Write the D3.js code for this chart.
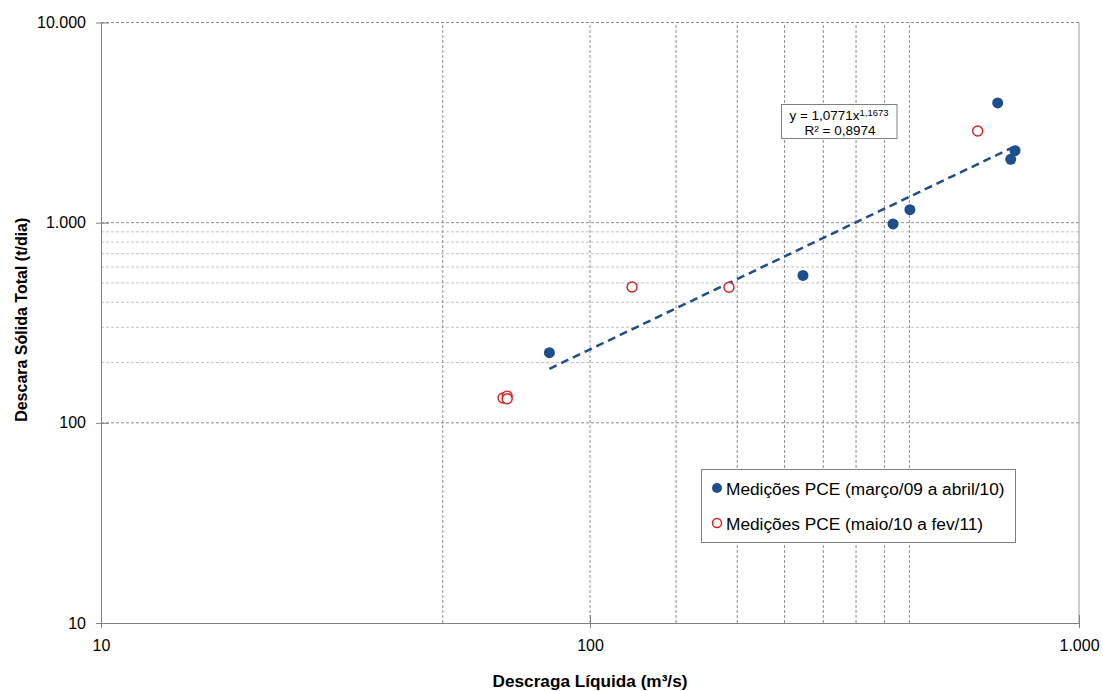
<!DOCTYPE html>
<html>
<head>
<meta charset="utf-8">
<script src="https://cdn.jsdelivr.net/npm/d3@7"></script>
<style>
  body { margin: 0; background: #fff; }
  svg { font-family: "Liberation Sans", Arial, sans-serif; }
</style>
</head>
<body>
<div id="chart"></div>
<script>
// Medições PCE (março/09 a abril/10) - [Q m3/s, Qs t/dia]
const serieA = [
  [82.6, 224], [272.6, 545], [416.6, 985], [451, 1161],
  [681.9, 3962], [725, 2073], [740, 2289]
];
// Medições PCE (maio/10 a fev/11)
const serieB = [
  [66.4, 133], [67.7, 136], [67.7, 132], [121.9, 477],
  [192.4, 476], [620.6, 2871]
];
const trendA = 1.0771, trendB = 1.1673;
const xTicks = [10, 100, 1000];
const yTicks = [10, 100, 1000, 10000];
const xMinor = [50, 150, 200, 250, 300, 350, 400, 450];
const yMinor = [200, 300, 400, 500, 600, 700, 800, 900];
const legendLabels = ["Medições PCE (março/09 a abril/10)", "Medições PCE (maio/10 a fev/11)"];

const width = 1103, height = 691;
const margin = { top: 22.5, right: 24, bottom: 68, left: 101 };
const fmt = d => d3.format(",")(d).replace(/,/g, ".");

const svg = d3.select("#chart").append("svg")
  .attr("width", width).attr("height", height);

const x = d3.scaleLog().domain([10, 1000]).range([margin.left, width - margin.right]);
const y = d3.scaleLog().domain([10, 10000]).range([height - margin.bottom, margin.top]);

const grid = svg.append("g").attr("fill", "none");
// minor y grid (lighter)
grid.selectAll("line.ymin").data(yMinor).enter().append("line")
  .attr("x1", x(10)).attr("x2", x(1000))
  .attr("y1", d => y(d)).attr("y2", d => y(d))
  .attr("stroke", "#c4c4c4").attr("stroke-dasharray", "3,2");
// major y grid
grid.selectAll("line.ymaj").data([100, 1000, 10000]).enter().append("line")
  .attr("x1", x(10)).attr("x2", x(1000))
  .attr("y1", d => y(d)).attr("y2", d => y(d))
  .attr("stroke", "#8c8c8c").attr("stroke-dasharray", "3,2");
// x grid
grid.selectAll("line.x").data(xMinor.concat([100])).enter().append("line")
  .attr("y1", y(10)).attr("y2", y(10000))
  .attr("x1", d => x(d)).attr("x2", d => x(d))
  .attr("stroke", "#8c8c8c").attr("stroke-dasharray", "3,2");
// right border
svg.append("line")
  .attr("x1", x(1000)).attr("x2", x(1000)).attr("y1", y(10)).attr("y2", y(10000))
  .attr("stroke", "#9a9a9a");

// axes
const xAxis = svg.append("g")
  .attr("transform", `translate(0,${y(10)})`)
  .call(d3.axisBottom(x).tickValues(xTicks).tickFormat(fmt).tickSizeInner(5).tickSizeOuter(0).tickPadding(12));
const yAxis = svg.append("g")
  .attr("transform", `translate(${x(10)},0)`)
  .call(d3.axisLeft(y).tickValues(yTicks).tickFormat(fmt).tickSizeInner(5).tickSizeOuter(0).tickPadding(10));
[xAxis, yAxis].forEach(a => {
  a.select(".domain").attr("stroke", "#808080");
  a.selectAll(".tick line").attr("stroke", "#808080");
  a.selectAll(".tick text").attr("font-size", 16).attr("fill", "#000")
    .attr("font-family", "Liberation Sans, Arial, sans-serif");
});
// ticks crossing into plot
xAxis.selectAll(".tick").append("line").attr("y2", -8).attr("stroke", "#808080");
yAxis.selectAll(".tick").append("line").attr("x2", 8).attr("stroke", "#808080");

// axis titles
svg.append("text")
  .attr("x", x(100)).attr("y", 687)
  .attr("text-anchor", "middle").attr("font-size", 17.2).attr("font-weight", "bold")
  .text("Descraga Líquida (m³/s)");
svg.append("text")
  .attr("transform", `translate(27,${(y(10) + y(10000)) / 2 - 3}) rotate(-90)`)
  .attr("text-anchor", "middle").attr("font-size", 16).attr("font-weight", "bold")
  .text("Descara Sólida Total (t/dia)");

// trend line (power fit over serieA)
const xr = d3.extent(serieA, d => d[0]);
const trendPts = d3.range(0, 41).map(i => {
  const xv = xr[0] * Math.pow(xr[1] / xr[0], i / 40);
  return [xv, trendA * Math.pow(xv, trendB)];
});
svg.append("path")
  .datum(trendPts)
  .attr("fill", "none").attr("stroke", "#1f4e8c").attr("stroke-width", 2.5)
  .attr("stroke-dasharray", "8,5")
  .attr("d", d3.line().x(d => x(d[0])).y(d => y(d[1])));

// points
svg.append("g").selectAll("circle").data(serieA).enter().append("circle")
  .attr("cx", d => x(d[0])).attr("cy", d => y(d[1])).attr("r", 5.5)
  .attr("fill", "#1f4e8c");
svg.append("g").selectAll("circle").data(serieB).enter().append("circle")
  .attr("cx", d => x(d[0])).attr("cy", d => y(d[1])).attr("r", 5)
  .attr("fill", "#fff").attr("stroke", "#d42020").attr("stroke-width", 1.4);

// equation box
const eq = svg.append("g");
eq.append("rect").attr("x", 781.5).attr("y", 104.5).attr("width", 115.5).attr("height", 34)
  .attr("fill", "#fff").attr("stroke", "#808080");
const t1 = eq.append("text").attr("x", 839).attr("y", 119.5).attr("text-anchor", "middle")
  .attr("font-size", 13.5);
t1.append("tspan").text(`y = ${String(trendA).replace(".", ",")}x`);
t1.append("tspan").attr("dy", -4).attr("font-size", 9.5).text(String(trendB).replace(".", ","));
eq.append("text").attr("x", 840).attr("y", 135).attr("text-anchor", "middle")
  .attr("font-size", 13.5).text("R² = 0,8974");

// legend
const lg = svg.append("g");
lg.append("rect").attr("x", 701.5).attr("y", 469.5).attr("width", 314).attr("height", 73)
  .attr("fill", "#fff").attr("stroke", "#808080");
const items = lg.selectAll("g.item").data(legendLabels).enter().append("g")
  .attr("transform", (d, i) => `translate(717,${488 + i * 35})`);
items.append("circle").attr("r", (d, i) => i === 0 ? 5 : 4.5)
  .attr("fill", (d, i) => i === 0 ? "#1f4e8c" : "#fff")
  .attr("stroke", (d, i) => i === 0 ? "none" : "#d42020").attr("stroke-width", 1.4);
items.append("text").attr("x", 9).attr("y", 6.5).attr("font-size", 17.3).text(d => d);
</script>
</body>
</html>
